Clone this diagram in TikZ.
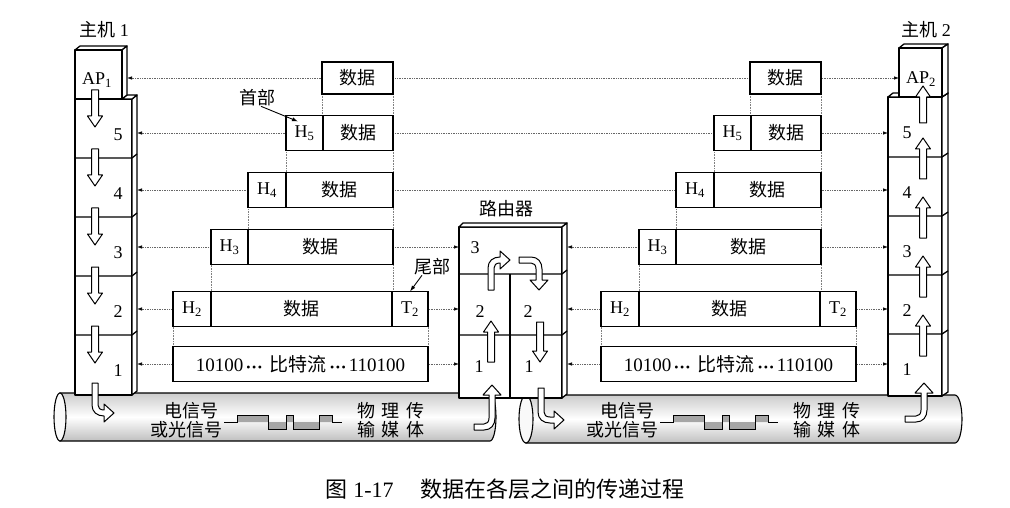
\documentclass[tikz,border=0pt]{standalone}
\usepackage{fontspec}
\setmainfont{Liberation Serif}
\newfontfamily\zh{Noto Sans CJK SC}
\usetikzlibrary{arrows.meta,positioning,backgrounds}
\newcommand{\fs}[1]{\fontsize{#1}{#1}\selectfont}
\newcommand{\middots}{\,{\fs{12}•\kern1.5pt•\kern1.5pt•}\,}

\begin{document}
\begin{tikzpicture}[x=1pt, y=-1pt,
  every node/.style={font=\fs{18}, inner sep=0pt, outer sep=0pt},
  frame/.style={draw, line width=1.3pt, fill=white, line join=round},
  edge3d/.style={line width=1.3pt},
  cell/.style={draw, line width=1.3pt, fill=white, minimum height=35pt, anchor=west},
  link/.style={densely dotted, gray!80!black, line width=0.7pt,
    {Latex[length=5pt,width=3.5pt,black]}-{Latex[length=5pt,width=3.5pt,black]}},
  guide/.style={densely dotted, gray, line width=0.6pt},
  pointer/.style={line width=0.9pt, -{Latex[length=6pt,width=4pt]}},
  cable/.style={draw, line width=1.1pt, top color=gray!40, bottom color=gray!50, middle color=white},
  hollow/.style={draw, line width=1pt, fill=white, line join=round},
  pics/downarrow/.style={code={
    \draw[hollow] (-3.5,0) -- (3.5,0) -- (3.5,#1-11) -- (7.5,#1-11) -- (0,#1)
      -- (-7.5,#1-11) -- (-3.5,#1-11) -- cycle;}},
  pics/uparrow/.style={code={
    \draw[hollow] (-3.5,0) -- (3.5,0) -- (3.5,-#1+11) -- (7.5,-#1+11) -- (0,-#1)
      -- (-7.5,-#1+11) -- (-3.5,-#1+11) -- cycle;}},
  pics/turnarrow/.style 2 args={code={
    \draw[hollow] (-3,0) -- (-3,#1) .. controls (-3,#1+7) and (2,#1+11) .. (9,#1+11)
      -- (9+#2,#1+11) -- (9+#2,#1+17) -- (19+#2,#1+8) -- (9+#2,#1-1) -- (9+#2,#1+5)
      -- (9,#1+5) .. controls (5,#1+5) and (3,#1+3) .. (3,#1) -- (3,0) -- cycle;}}
]
\useasboundingbox (0,0) rectangle (1010,508);

% transmission media
\draw[cable] (60,393) -- (490,393) arc[start angle=-90, end angle=90, x radius=6, y radius=24] -- (60,441) -- cycle;
\draw[line width=1.1pt, fill=gray!5] (60,417) ellipse[x radius=6, y radius=24];
\draw[cable] (526,395) -- (955,395) arc[start angle=-90, end angle=90, x radius=7, y radius=24] -- (526,443) -- cycle;
\draw[line width=1.1pt, fill=gray!5] (526,419) ellipse[x radius=7, y radius=24];

\foreach \dx/\s in {0/l,436/r} {
  \begin{scope}[xshift=\dx pt]
    \node (sigA\s) at (191,411) {\zh 电信号};
    \node[anchor=east] (sigB\s) at (222,430) {\zh 或光信号};
    \node (medA\s) at (391,411) {\zh 物\hspace{7pt}理\hspace{7pt}传};
    \node (medB\s) at (391,430) {\zh 输\hspace{7pt}媒\hspace{7pt}体};
    \fill[gray!70] (237,422) -- (237,415) -- (268,415) -- (268,429) -- (286,429) -- (286,415)
      -- (293,415) -- (293,429) -- (319,429) -- (319,415) -- (332,415) -- (332,422) -- cycle;
    \draw[line width=1pt] (224,422) -- (237,422) -- (237,415) -- (268,415) -- (268,429)
      -- (286,429) -- (286,415) -- (293,415) -- (293,429) -- (319,429) -- (319,415)
      -- (332,415) -- (332,422) -- (342,422);
  \end{scope}
}

% host 1
\draw[frame] (75,99) rectangle (132,395);
\draw[frame] (132,99) -- (137,95) -- (137,391) -- (132,395) -- cycle;
\foreach \b in {158,217,276,335}
  \draw[edge3d] (75,\b) -- (132,\b) -- (137,\b-4);
\draw[frame] (122,99) -- (127,95) -- (137,95) -- (132,99) -- cycle;
\draw[frame] (75,50) -- (80,46) -- (127,46) -- (122,50) -- cycle;
\draw[frame] (122,50) -- (127,46) -- (127,95) -- (122,99) -- cycle;
\draw[frame] (75,50) rectangle (122,99);
\node (host1) at (104,30) {{\zh 主机} 1};
\node (ap1) at (97,80) {AP\textsubscript{1}};
\foreach \n/\t in {5/99,4/158,3/217,2/276,1/335} {
  \node (a\n) at (118,\t+36) {\n};
  \pic at (95,\t-9) {downarrow=37};
}
\pic at (95,383) {turnarrow={22}{0}};

% host 2
\draw[frame] (888,97) rectangle (942,396);
\draw[frame] (942,97) -- (948,93) -- (948,392) -- (942,396) -- cycle;
\foreach \b in {157,216,275,334}
  \draw[edge3d] (888,\b) -- (942,\b) -- (948,\b-4);
\draw[frame] (888,97) -- (893,93) -- (948,93) -- (942,97) -- cycle;
\draw[frame] (899,48) -- (904,44) -- (948,44) -- (942,48) -- cycle;
\draw[frame] (942,48) -- (948,44) -- (948,93) -- (942,97) -- cycle;
\draw[frame] (899,48) rectangle (942,97);
\node (host2) at (926,30) {{\zh 主机} 2};
\node (ap2) at (921,79) {AP\textsubscript{2}};
\foreach \n/\t in {5/97,4/157,3/216,2/275,1/334}
  \node (b\n) at (907,\t+36) {\n};
\pic at (923,123) {uparrow=37};
\foreach \t in {157,216,275,334}
  \pic at (923,\t+22) {uparrow=41};
\pic[rotate=90] at (905,419) {turnarrow={11}{17}};

% router
\draw[frame] (459,227) rectangle (562,398);
\draw[frame] (459,227) -- (463,223) -- (567,223) -- (562,227) -- cycle;
\draw[frame] (562,227) -- (567,223) -- (567,394) -- (562,398) -- cycle;
\foreach \b in {274,335}
  \draw[edge3d] (459,\b) -- (562,\b) -- (567,\b-4);
\draw[edge3d] (510,274) -- (510,398);
\node (router) at (506,209) {\zh 路由器};
\node (g3) at (475,248) {3};
\node (g2l) at (480,312) {2};
\node (g2r) at (528,312) {2};
\node (g1l) at (479,367) {1};
\node (g1r) at (529,367) {1};
\pic at (491,362) {uparrow=41};
\pic at (540,322) {downarrow=40};
\pic[yscale=-1] at (491,290) {turnarrow={22}{0}};
\pic[yscale=-1, rotate=90] at (519,260) {turnarrow={12}{11}};
\pic[rotate=90] at (474,427) {turnarrow={10}{23}};
\pic at (541,388) {turnarrow={24}{4}};

% data units
\foreach \dx/\s in {0/l,428/r} {
  \node[cell, minimum width=71pt, minimum height=32pt] (d0\s) at (322+\dx,78) {\zh 数据};
  \node[cell, minimum width=37pt] (h5\s) at (286+\dx,133) {H\textsubscript{5}};
  \node[cell, minimum width=70pt, right=0pt of h5\s] (d5\s) {\zh 数据};
  \node[cell, minimum width=38pt] (h4\s) at (248+\dx,190) {H\textsubscript{4}};
  \node[cell, minimum width=107pt, right=0pt of h4\s] (d4\s) {\zh 数据};
  \node[cell, minimum width=37pt] (h3\s) at (211+\dx,247) {H\textsubscript{3}};
  \node[cell, minimum width=145pt, right=0pt of h3\s] (d3\s) {\zh 数据};
  \node[cell, minimum width=38pt] (h2\s) at (173+\dx,309) {H\textsubscript{2}};
  \node[cell, minimum width=181pt, right=0pt of h2\s] (d2\s) {\zh 数据};
  \node[cell, minimum width=36pt, right=0pt of d2\s] (t2\s) {T\textsubscript{2}};
  \node[cell, minimum width=255pt, font=\fs{19}] (bits\s) at (173+\dx,364)
    {10100\middots\ {\zh 比特流}\middots 110100};
}

% peer links
\coordinate (p0) at (127,78);
\coordinate (q0) at (899,78);
\foreach \k/\y in {5/133,4/190,3/247,2/309,1/364} {
  \coordinate (p\k) at (137,\y);
  \coordinate (q\k) at (888,\y);
}
\foreach \k/\y in {3/247,2/309,1/364} {
  \coordinate (gl\k) at (459,\y);
  \coordinate (gr\k) at (567,\y);
}
\begin{scope}[on background layer]
  \foreach \k in {0,5,4}
    \draw[link] (p\k) -- (q\k);
  \foreach \k in {3,2,1} {
    \draw[link] (p\k) -- (gl\k);
    \draw[link] (gr\k) -- (q\k);
  }
  \foreach \s in {l,r} {
    \draw[guide] (d0\s.south west) -- (d0\s.south west |- h5\s.north);
    \draw[guide] (h5\s.south west) -- (h5\s.south west |- h4\s.north);
    \draw[guide] (h4\s.south west) -- (h4\s.south west |- h3\s.north);
    \draw[guide] (h3\s.south west) -- (h3\s.south west |- h2\s.north);
    \draw[guide] (h2\s.south west) -- (h2\s.south west |- bits\s.north);
    \draw[guide] (d0\s.south east) -- (d0\s.south east |- t2\s.north);
    \draw[guide] (t2\s.south east) -- (t2\s.south east |- bits\s.north);
  }
\end{scope}

% header and trailer
\node (shoubu) at (257,98) {\zh 首部};
\draw[pointer] ([xshift=4pt]shoubu.south) -- ([xshift=12pt,yshift=-6pt]h5l.north west);
\node (weibu) at (432,267) {\zh 尾部};
\draw[pointer] ([xshift=-10pt]weibu.south) -- ([xshift=-18pt]t2l.north east);

\node[font=\fs{22}] (caption) at (505,489)
  {{\zh 图} 1-17\hspace{1.2em}{\zh 数据在各层之间的传递过程}};
\end{tikzpicture}
\end{document}
